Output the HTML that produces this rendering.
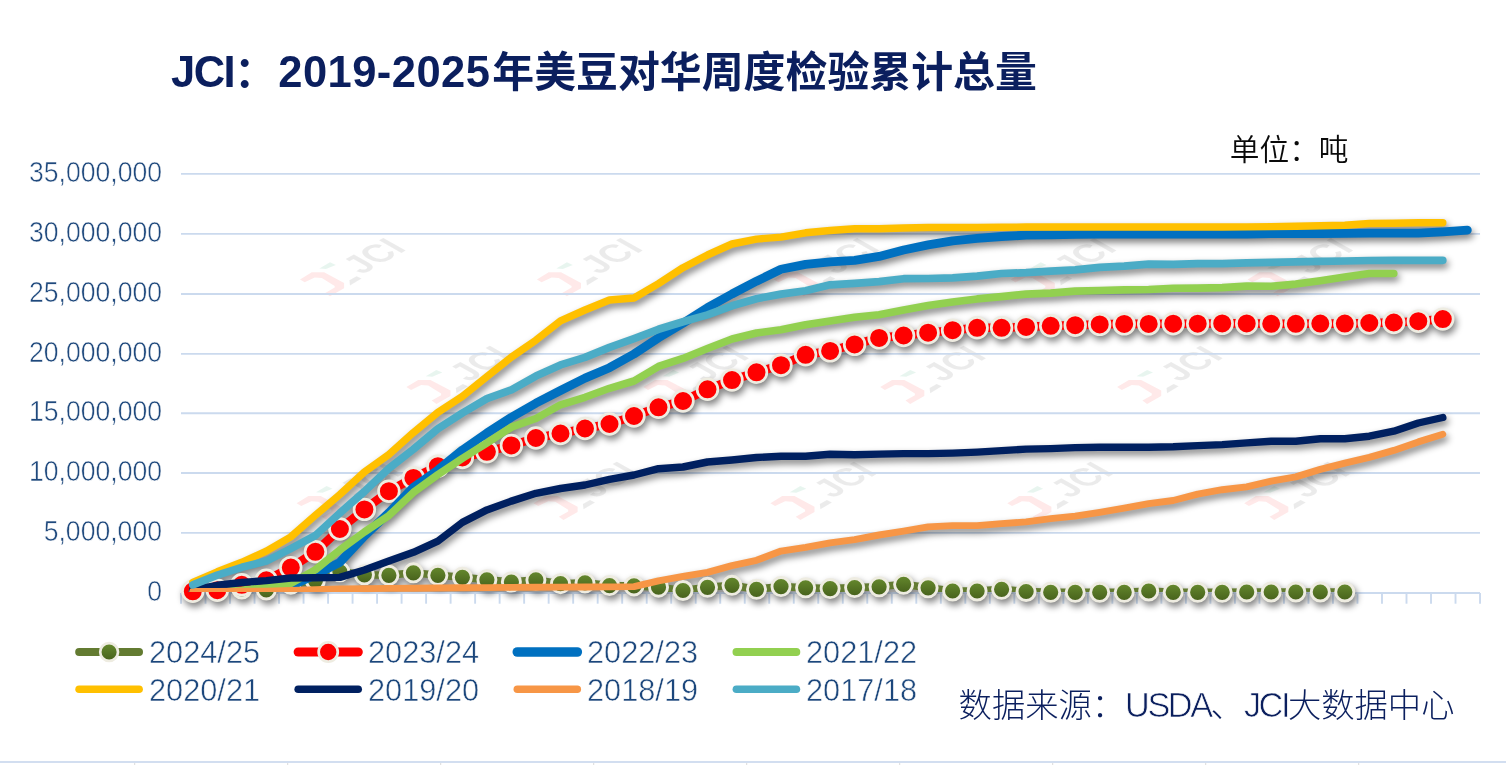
<!DOCTYPE html>
<html lang="zh-CN">
<head>
<meta charset="utf-8">
<title>JCI：2019-2025年美豆对华周度检验累计总量</title>
<style>
html,body{margin:0;padding:0;background:#fff;}
body{width:1506px;height:765px;position:relative;overflow:hidden;font-family:"Liberation Sans","Noto Sans CJK SC",sans-serif;}
.chart{position:absolute;left:0;top:0;}
.t{position:absolute;white-space:nowrap;line-height:1;}
.title{left:171px;top:51px;font-size:41.9px;font-weight:700;color:#0B1F5E;}
.title .l{font-size:43.5px;}
.title .j{letter-spacing:-1.5px;}
.title .d{letter-spacing:0.45px;margin-left:2.2px;margin-right:1.9px;}
.unit{left:1229.8px;top:134.6px;font-size:29.7px;color:#0a0a0a;font-weight:350;}
.src{left:958.6px;top:688px;font-size:33.3px;color:#0B1F5E;font-weight:300;}
.src .l{font-size:34.3px;letter-spacing:-2.45px;-webkit-text-stroke:0.7px #fff;}
.ax{right:1343.8px;width:170px;text-align:right;font-size:28.6px;color:#1F497D;-webkit-text-stroke:0.55px #fff;transform:scaleX(0.93);transform-origin:100% 50%;}
.lg{font-size:32px;color:#1C477C;-webkit-text-stroke:0.55px #fff;transform:scaleX(0.96);transform-origin:0 50%;}
</style>
</head>
<body>

<svg class="chart" width="1506" height="765" viewBox="0 0 1506 765">
<defs>
<filter id="sh" x="-2%" y="-5%" width="104%" height="110%" color-interpolation-filters="sRGB">
<feGaussianBlur in="SourceAlpha" stdDeviation="3.5"/>
<feOffset dx="1.6" dy="4.2"/>
<feComponentTransfer><feFuncA type="linear" slope="0.5"/></feComponentTransfer>
</filter>
<linearGradient id="gg" x1="0" y1="0" x2="0" y2="1"><stop offset="0" stop-color="#668A2E"/><stop offset="1" stop-color="#46601B"/></linearGradient>
</defs>
<path d="M0,762 H1506" stroke="#D2DEF0" stroke-width="1.8" fill="none"/>
<g stroke="#DADADA" stroke-width="1" fill="none">
<path d="M134.7,763 V765"/>
<path d="M287.7,763 V765"/>
<path d="M440.7,763 V765"/>
<path d="M593.7,763 V765"/>
<path d="M746.7,763 V765"/>
<path d="M899.7,763 V765"/>
<path d="M1052.7,763 V765"/>
<path d="M1205.7,763 V765"/>
<path d="M1358.7,763 V765"/>
</g>
<g opacity="0.095" transform="translate(300.0,279.4)">
<polygon points="0,0 11.8,-7.1 24.1,-7.1 44.1,3.5 44.1,8.8 30,16.8 25.3,13.5 34.7,8.2 34.7,6.5 21.8,-1.5 14.7,-2 4.7,2.9" fill="#ff1e1e"/>
<polygon points="19.4,-10.9 30,-17.1 35.9,-14.5 25.9,-10.4" fill="#14a064"/>
<polygon points="49.4,0.8 56.5,-3.2 61.5,-0.8 50,6.1" fill="#3c3c3c"/>
<text transform="translate(62.1,-4.5) matrix(0.707 -0.396 0.707 0.396 0 0) scale(0.9,1)" font-family="'Liberation Sans', sans-serif" font-weight="700" font-size="46" fill="#3c3c3c">JCI</text>
</g>
<g opacity="0.095" transform="translate(536.9,279.4)">
<polygon points="0,0 11.8,-7.1 24.1,-7.1 44.1,3.5 44.1,8.8 30,16.8 25.3,13.5 34.7,8.2 34.7,6.5 21.8,-1.5 14.7,-2 4.7,2.9" fill="#ff1e1e"/>
<polygon points="19.4,-10.9 30,-17.1 35.9,-14.5 25.9,-10.4" fill="#14a064"/>
<polygon points="49.4,0.8 56.5,-3.2 61.5,-0.8 50,6.1" fill="#3c3c3c"/>
<text transform="translate(62.1,-4.5) matrix(0.707 -0.396 0.707 0.396 0 0) scale(0.9,1)" font-family="'Liberation Sans', sans-serif" font-weight="700" font-size="46" fill="#3c3c3c">JCI</text>
</g>
<g opacity="0.095" transform="translate(773.8,279.4)">
<polygon points="0,0 11.8,-7.1 24.1,-7.1 44.1,3.5 44.1,8.8 30,16.8 25.3,13.5 34.7,8.2 34.7,6.5 21.8,-1.5 14.7,-2 4.7,2.9" fill="#ff1e1e"/>
<polygon points="19.4,-10.9 30,-17.1 35.9,-14.5 25.9,-10.4" fill="#14a064"/>
<polygon points="49.4,0.8 56.5,-3.2 61.5,-0.8 50,6.1" fill="#3c3c3c"/>
<text transform="translate(62.1,-4.5) matrix(0.707 -0.396 0.707 0.396 0 0) scale(0.9,1)" font-family="'Liberation Sans', sans-serif" font-weight="700" font-size="46" fill="#3c3c3c">JCI</text>
</g>
<g opacity="0.095" transform="translate(1010.7,279.4)">
<polygon points="0,0 11.8,-7.1 24.1,-7.1 44.1,3.5 44.1,8.8 30,16.8 25.3,13.5 34.7,8.2 34.7,6.5 21.8,-1.5 14.7,-2 4.7,2.9" fill="#ff1e1e"/>
<polygon points="19.4,-10.9 30,-17.1 35.9,-14.5 25.9,-10.4" fill="#14a064"/>
<polygon points="49.4,0.8 56.5,-3.2 61.5,-0.8 50,6.1" fill="#3c3c3c"/>
<text transform="translate(62.1,-4.5) matrix(0.707 -0.396 0.707 0.396 0 0) scale(0.9,1)" font-family="'Liberation Sans', sans-serif" font-weight="700" font-size="46" fill="#3c3c3c">JCI</text>
</g>
<g opacity="0.095" transform="translate(1247.6,279.4)">
<polygon points="0,0 11.8,-7.1 24.1,-7.1 44.1,3.5 44.1,8.8 30,16.8 25.3,13.5 34.7,8.2 34.7,6.5 21.8,-1.5 14.7,-2 4.7,2.9" fill="#ff1e1e"/>
<polygon points="19.4,-10.9 30,-17.1 35.9,-14.5 25.9,-10.4" fill="#14a064"/>
<polygon points="49.4,0.8 56.5,-3.2 61.5,-0.8 50,6.1" fill="#3c3c3c"/>
<text transform="translate(62.1,-4.5) matrix(0.707 -0.396 0.707 0.396 0 0) scale(0.9,1)" font-family="'Liberation Sans', sans-serif" font-weight="700" font-size="46" fill="#3c3c3c">JCI</text>
</g>
<g opacity="0.095" transform="translate(406.4,387.1)">
<polygon points="0,0 11.8,-7.1 24.1,-7.1 44.1,3.5 44.1,8.8 30,16.8 25.3,13.5 34.7,8.2 34.7,6.5 21.8,-1.5 14.7,-2 4.7,2.9" fill="#ff1e1e"/>
<polygon points="19.4,-10.9 30,-17.1 35.9,-14.5 25.9,-10.4" fill="#14a064"/>
<polygon points="49.4,0.8 56.5,-3.2 61.5,-0.8 50,6.1" fill="#3c3c3c"/>
<text transform="translate(62.1,-4.5) matrix(0.707 -0.396 0.707 0.396 0 0) scale(0.9,1)" font-family="'Liberation Sans', sans-serif" font-weight="700" font-size="46" fill="#3c3c3c">JCI</text>
</g>
<g opacity="0.095" transform="translate(643.3,387.1)">
<polygon points="0,0 11.8,-7.1 24.1,-7.1 44.1,3.5 44.1,8.8 30,16.8 25.3,13.5 34.7,8.2 34.7,6.5 21.8,-1.5 14.7,-2 4.7,2.9" fill="#ff1e1e"/>
<polygon points="19.4,-10.9 30,-17.1 35.9,-14.5 25.9,-10.4" fill="#14a064"/>
<polygon points="49.4,0.8 56.5,-3.2 61.5,-0.8 50,6.1" fill="#3c3c3c"/>
<text transform="translate(62.1,-4.5) matrix(0.707 -0.396 0.707 0.396 0 0) scale(0.9,1)" font-family="'Liberation Sans', sans-serif" font-weight="700" font-size="46" fill="#3c3c3c">JCI</text>
</g>
<g opacity="0.095" transform="translate(880.2,387.1)">
<polygon points="0,0 11.8,-7.1 24.1,-7.1 44.1,3.5 44.1,8.8 30,16.8 25.3,13.5 34.7,8.2 34.7,6.5 21.8,-1.5 14.7,-2 4.7,2.9" fill="#ff1e1e"/>
<polygon points="19.4,-10.9 30,-17.1 35.9,-14.5 25.9,-10.4" fill="#14a064"/>
<polygon points="49.4,0.8 56.5,-3.2 61.5,-0.8 50,6.1" fill="#3c3c3c"/>
<text transform="translate(62.1,-4.5) matrix(0.707 -0.396 0.707 0.396 0 0) scale(0.9,1)" font-family="'Liberation Sans', sans-serif" font-weight="700" font-size="46" fill="#3c3c3c">JCI</text>
</g>
<g opacity="0.095" transform="translate(1117.1,387.1)">
<polygon points="0,0 11.8,-7.1 24.1,-7.1 44.1,3.5 44.1,8.8 30,16.8 25.3,13.5 34.7,8.2 34.7,6.5 21.8,-1.5 14.7,-2 4.7,2.9" fill="#ff1e1e"/>
<polygon points="19.4,-10.9 30,-17.1 35.9,-14.5 25.9,-10.4" fill="#14a064"/>
<polygon points="49.4,0.8 56.5,-3.2 61.5,-0.8 50,6.1" fill="#3c3c3c"/>
<text transform="translate(62.1,-4.5) matrix(0.707 -0.396 0.707 0.396 0 0) scale(0.9,1)" font-family="'Liberation Sans', sans-serif" font-weight="700" font-size="46" fill="#3c3c3c">JCI</text>
</g>
<g opacity="0.095" transform="translate(296.6,503.2)">
<polygon points="0,0 11.8,-7.1 24.1,-7.1 44.1,3.5 44.1,8.8 30,16.8 25.3,13.5 34.7,8.2 34.7,6.5 21.8,-1.5 14.7,-2 4.7,2.9" fill="#ff1e1e"/>
<polygon points="19.4,-10.9 30,-17.1 35.9,-14.5 25.9,-10.4" fill="#14a064"/>
<polygon points="49.4,0.8 56.5,-3.2 61.5,-0.8 50,6.1" fill="#3c3c3c"/>
<text transform="translate(62.1,-4.5) matrix(0.707 -0.396 0.707 0.396 0 0) scale(0.9,1)" font-family="'Liberation Sans', sans-serif" font-weight="700" font-size="46" fill="#3c3c3c">JCI</text>
</g>
<g opacity="0.095" transform="translate(533.5,503.2)">
<polygon points="0,0 11.8,-7.1 24.1,-7.1 44.1,3.5 44.1,8.8 30,16.8 25.3,13.5 34.7,8.2 34.7,6.5 21.8,-1.5 14.7,-2 4.7,2.9" fill="#ff1e1e"/>
<polygon points="19.4,-10.9 30,-17.1 35.9,-14.5 25.9,-10.4" fill="#14a064"/>
<polygon points="49.4,0.8 56.5,-3.2 61.5,-0.8 50,6.1" fill="#3c3c3c"/>
<text transform="translate(62.1,-4.5) matrix(0.707 -0.396 0.707 0.396 0 0) scale(0.9,1)" font-family="'Liberation Sans', sans-serif" font-weight="700" font-size="46" fill="#3c3c3c">JCI</text>
</g>
<g opacity="0.095" transform="translate(770.4,503.2)">
<polygon points="0,0 11.8,-7.1 24.1,-7.1 44.1,3.5 44.1,8.8 30,16.8 25.3,13.5 34.7,8.2 34.7,6.5 21.8,-1.5 14.7,-2 4.7,2.9" fill="#ff1e1e"/>
<polygon points="19.4,-10.9 30,-17.1 35.9,-14.5 25.9,-10.4" fill="#14a064"/>
<polygon points="49.4,0.8 56.5,-3.2 61.5,-0.8 50,6.1" fill="#3c3c3c"/>
<text transform="translate(62.1,-4.5) matrix(0.707 -0.396 0.707 0.396 0 0) scale(0.9,1)" font-family="'Liberation Sans', sans-serif" font-weight="700" font-size="46" fill="#3c3c3c">JCI</text>
</g>
<g opacity="0.095" transform="translate(1007.3,503.2)">
<polygon points="0,0 11.8,-7.1 24.1,-7.1 44.1,3.5 44.1,8.8 30,16.8 25.3,13.5 34.7,8.2 34.7,6.5 21.8,-1.5 14.7,-2 4.7,2.9" fill="#ff1e1e"/>
<polygon points="19.4,-10.9 30,-17.1 35.9,-14.5 25.9,-10.4" fill="#14a064"/>
<polygon points="49.4,0.8 56.5,-3.2 61.5,-0.8 50,6.1" fill="#3c3c3c"/>
<text transform="translate(62.1,-4.5) matrix(0.707 -0.396 0.707 0.396 0 0) scale(0.9,1)" font-family="'Liberation Sans', sans-serif" font-weight="700" font-size="46" fill="#3c3c3c">JCI</text>
</g>
<g opacity="0.095" transform="translate(1244.2,503.2)">
<polygon points="0,0 11.8,-7.1 24.1,-7.1 44.1,3.5 44.1,8.8 30,16.8 25.3,13.5 34.7,8.2 34.7,6.5 21.8,-1.5 14.7,-2 4.7,2.9" fill="#ff1e1e"/>
<polygon points="19.4,-10.9 30,-17.1 35.9,-14.5 25.9,-10.4" fill="#14a064"/>
<polygon points="49.4,0.8 56.5,-3.2 61.5,-0.8 50,6.1" fill="#3c3c3c"/>
<text transform="translate(62.1,-4.5) matrix(0.707 -0.396 0.707 0.396 0 0) scale(0.9,1)" font-family="'Liberation Sans', sans-serif" font-weight="700" font-size="46" fill="#3c3c3c">JCI</text>
</g>
<g stroke="#CBDAEE" stroke-width="1.9" fill="none">
<path d="M181.0,173.90 H1480.0"/>
<path d="M181.0,233.85 H1480.0"/>
<path d="M181.0,294.00 H1480.0"/>
<path d="M181.0,353.90 H1480.0"/>
<path d="M181.0,413.30 H1480.0"/>
<path d="M181.0,473.00 H1480.0"/>
<path d="M181.0,532.90 H1480.0"/>
<path d="M181.0,593.00 H1480.0"/>
<path d="M181.00,593.00 V603.70"/>
<path d="M205.51,593.00 V603.70"/>
<path d="M230.02,593.00 V603.70"/>
<path d="M254.53,593.00 V603.70"/>
<path d="M279.04,593.00 V603.70"/>
<path d="M303.55,593.00 V603.70"/>
<path d="M328.06,593.00 V603.70"/>
<path d="M352.57,593.00 V603.70"/>
<path d="M377.08,593.00 V603.70"/>
<path d="M401.59,593.00 V603.70"/>
<path d="M426.10,593.00 V603.70"/>
<path d="M450.61,593.00 V603.70"/>
<path d="M475.12,593.00 V603.70"/>
<path d="M499.63,593.00 V603.70"/>
<path d="M524.14,593.00 V603.70"/>
<path d="M548.65,593.00 V603.70"/>
<path d="M573.16,593.00 V603.70"/>
<path d="M597.67,593.00 V603.70"/>
<path d="M622.18,593.00 V603.70"/>
<path d="M646.69,593.00 V603.70"/>
<path d="M671.20,593.00 V603.70"/>
<path d="M695.71,593.00 V603.70"/>
<path d="M720.22,593.00 V603.70"/>
<path d="M744.73,593.00 V603.70"/>
<path d="M769.24,593.00 V603.70"/>
<path d="M793.75,593.00 V603.70"/>
<path d="M818.26,593.00 V603.70"/>
<path d="M842.77,593.00 V603.70"/>
<path d="M867.28,593.00 V603.70"/>
<path d="M891.79,593.00 V603.70"/>
<path d="M916.30,593.00 V603.70"/>
<path d="M940.81,593.00 V603.70"/>
<path d="M965.32,593.00 V603.70"/>
<path d="M989.83,593.00 V603.70"/>
<path d="M1014.34,593.00 V603.70"/>
<path d="M1038.85,593.00 V603.70"/>
<path d="M1063.36,593.00 V603.70"/>
<path d="M1087.87,593.00 V603.70"/>
<path d="M1112.38,593.00 V603.70"/>
<path d="M1136.89,593.00 V603.70"/>
<path d="M1161.40,593.00 V603.70"/>
<path d="M1185.91,593.00 V603.70"/>
<path d="M1210.42,593.00 V603.70"/>
<path d="M1234.93,593.00 V603.70"/>
<path d="M1259.44,593.00 V603.70"/>
<path d="M1283.95,593.00 V603.70"/>
<path d="M1308.46,593.00 V603.70"/>
<path d="M1332.97,593.00 V603.70"/>
<path d="M1357.48,593.00 V603.70"/>
<path d="M1381.99,593.00 V603.70"/>
<path d="M1406.50,593.00 V603.70"/>
<path d="M1431.01,593.00 V603.70"/>
<path d="M1455.52,593.00 V603.70"/>
<path d="M1480.03,593.00 V603.70"/>
</g>
<defs><clipPath id="pc"><rect x="0" y="0" width="1506" height="592"/></clipPath><clipPath id="pb"><rect x="0" y="592" width="1506" height="60"/></clipPath></defs>
<g clip-path="url(#pc)"><g filter="url(#sh)"><polyline clip-path="url(#pc)" points="192.8,591.3 217.3,590.2 241.8,589.0 266.3,590.0 290.8,584.3 315.4,580.6 339.9,571.8 364.4,574.8 388.9,575.3 413.4,572.8 437.9,575.3 462.4,577.3 486.9,579.8 511.4,582.0 535.9,579.9 560.5,583.7 585.0,582.9 609.5,585.6 634.0,585.9 658.5,587.2 683.0,590.5 707.5,587.3 732.0,585.3 756.5,589.3 781.0,586.6 805.6,587.8 830.1,588.6 854.6,587.6 879.1,586.8 903.6,584.3 928.1,587.8 952.6,591.0 977.1,591.0 1001.6,589.3 1026.1,591.5 1050.7,592.3 1075.2,592.3 1099.7,592.3 1124.2,592.3 1148.7,591.0 1173.2,592.3 1197.7,592.3 1222.2,592.3 1246.7,592.0 1271.2,592.0 1295.8,592.0 1320.3,592.0 1344.8,592.0" fill="none" stroke="#637B31" stroke-width="7.6" stroke-linecap="round" stroke-linejoin="round"/>
<g fill="url(#gg)" stroke="#EEECE1" stroke-width="2.9">
<circle cx="192.8" cy="591.3" r="9.049999999999999"/>
<circle cx="217.3" cy="590.2" r="9.049999999999999"/>
<circle cx="241.8" cy="589.0" r="9.049999999999999"/>
<circle cx="266.3" cy="590.0" r="9.049999999999999"/>
<circle cx="290.8" cy="584.3" r="9.049999999999999"/>
<circle cx="315.4" cy="580.6" r="9.049999999999999"/>
<circle cx="339.9" cy="571.8" r="9.049999999999999"/>
<circle cx="364.4" cy="574.8" r="9.049999999999999"/>
<circle cx="388.9" cy="575.3" r="9.049999999999999"/>
<circle cx="413.4" cy="572.8" r="9.049999999999999"/>
<circle cx="437.9" cy="575.3" r="9.049999999999999"/>
<circle cx="462.4" cy="577.3" r="9.049999999999999"/>
<circle cx="486.9" cy="579.8" r="9.049999999999999"/>
<circle cx="511.4" cy="582.0" r="9.049999999999999"/>
<circle cx="535.9" cy="579.9" r="9.049999999999999"/>
<circle cx="560.5" cy="583.7" r="9.049999999999999"/>
<circle cx="585.0" cy="582.9" r="9.049999999999999"/>
<circle cx="609.5" cy="585.6" r="9.049999999999999"/>
<circle cx="634.0" cy="585.9" r="9.049999999999999"/>
<circle cx="658.5" cy="587.2" r="9.049999999999999"/>
<circle cx="683.0" cy="590.5" r="9.049999999999999"/>
<circle cx="707.5" cy="587.3" r="9.049999999999999"/>
<circle cx="732.0" cy="585.3" r="9.049999999999999"/>
<circle cx="756.5" cy="589.3" r="9.049999999999999"/>
<circle cx="781.0" cy="586.6" r="9.049999999999999"/>
<circle cx="805.6" cy="587.8" r="9.049999999999999"/>
<circle cx="830.1" cy="588.6" r="9.049999999999999"/>
<circle cx="854.6" cy="587.6" r="9.049999999999999"/>
<circle cx="879.1" cy="586.8" r="9.049999999999999"/>
<circle cx="903.6" cy="584.3" r="9.049999999999999"/>
<circle cx="928.1" cy="587.8" r="9.049999999999999"/>
<circle cx="952.6" cy="591.0" r="9.049999999999999"/>
<circle cx="977.1" cy="591.0" r="9.049999999999999"/>
<circle cx="1001.6" cy="589.3" r="9.049999999999999"/>
<circle cx="1026.1" cy="591.5" r="9.049999999999999"/>
<circle cx="1050.7" cy="592.3" r="9.049999999999999"/>
<circle cx="1075.2" cy="592.3" r="9.049999999999999"/>
<circle cx="1099.7" cy="592.3" r="9.049999999999999"/>
<circle cx="1124.2" cy="592.3" r="9.049999999999999"/>
<circle cx="1148.7" cy="591.0" r="9.049999999999999"/>
<circle cx="1173.2" cy="592.3" r="9.049999999999999"/>
<circle cx="1197.7" cy="592.3" r="9.049999999999999"/>
<circle cx="1222.2" cy="592.3" r="9.049999999999999"/>
<circle cx="1246.7" cy="592.0" r="9.049999999999999"/>
<circle cx="1271.2" cy="592.0" r="9.049999999999999"/>
<circle cx="1295.8" cy="592.0" r="9.049999999999999"/>
<circle cx="1320.3" cy="592.0" r="9.049999999999999"/>
<circle cx="1344.8" cy="592.0" r="9.049999999999999"/>
</g>
<polyline clip-path="url(#pc)" points="192.8,591.3 217.3,590.2 241.8,584.8 266.3,580.3 290.8,567.6 315.4,551.8 339.9,529.0 364.4,509.4 388.9,491.2 413.4,477.9 437.9,466.2 462.4,457.5 486.9,451.8 511.4,445.4 535.9,438.0 560.5,433.5 585.0,428.5 609.5,424.0 634.0,416.0 658.5,407.3 683.0,401.0 707.5,389.3 732.0,380.1 756.5,372.3 781.0,365.2 805.6,354.8 830.1,350.9 854.6,344.4 879.1,337.9 903.6,335.5 928.1,332.7 952.6,330.2 977.1,327.8 1001.6,327.8 1026.1,326.9 1050.7,325.8 1075.2,325.2 1099.7,324.4 1124.2,323.9 1148.7,323.9 1173.2,323.7 1197.7,323.7 1222.2,323.4 1246.7,323.4 1271.2,323.8 1295.8,323.8 1320.3,323.6 1344.8,323.6 1369.3,323.0 1393.8,322.5 1418.3,321.2 1442.8,319.1" fill="none" stroke="#FF0000" stroke-width="8.6" stroke-linecap="round" stroke-linejoin="round"/>
<g fill="#FF0000" stroke="#EEECE1" stroke-width="2.7">
<circle cx="192.8" cy="591.3" r="10.35"/>
<circle cx="217.3" cy="590.2" r="10.35"/>
<circle cx="241.8" cy="584.8" r="10.35"/>
<circle cx="266.3" cy="580.3" r="10.35"/>
<circle cx="290.8" cy="567.6" r="10.35"/>
<circle cx="315.4" cy="551.8" r="10.35"/>
<circle cx="339.9" cy="529.0" r="10.35"/>
<circle cx="364.4" cy="509.4" r="10.35"/>
<circle cx="388.9" cy="491.2" r="10.35"/>
<circle cx="413.4" cy="477.9" r="10.35"/>
<circle cx="437.9" cy="466.2" r="10.35"/>
<circle cx="462.4" cy="457.5" r="10.35"/>
<circle cx="486.9" cy="451.8" r="10.35"/>
<circle cx="511.4" cy="445.4" r="10.35"/>
<circle cx="535.9" cy="438.0" r="10.35"/>
<circle cx="560.5" cy="433.5" r="10.35"/>
<circle cx="585.0" cy="428.5" r="10.35"/>
<circle cx="609.5" cy="424.0" r="10.35"/>
<circle cx="634.0" cy="416.0" r="10.35"/>
<circle cx="658.5" cy="407.3" r="10.35"/>
<circle cx="683.0" cy="401.0" r="10.35"/>
<circle cx="707.5" cy="389.3" r="10.35"/>
<circle cx="732.0" cy="380.1" r="10.35"/>
<circle cx="756.5" cy="372.3" r="10.35"/>
<circle cx="781.0" cy="365.2" r="10.35"/>
<circle cx="805.6" cy="354.8" r="10.35"/>
<circle cx="830.1" cy="350.9" r="10.35"/>
<circle cx="854.6" cy="344.4" r="10.35"/>
<circle cx="879.1" cy="337.9" r="10.35"/>
<circle cx="903.6" cy="335.5" r="10.35"/>
<circle cx="928.1" cy="332.7" r="10.35"/>
<circle cx="952.6" cy="330.2" r="10.35"/>
<circle cx="977.1" cy="327.8" r="10.35"/>
<circle cx="1001.6" cy="327.8" r="10.35"/>
<circle cx="1026.1" cy="326.9" r="10.35"/>
<circle cx="1050.7" cy="325.8" r="10.35"/>
<circle cx="1075.2" cy="325.2" r="10.35"/>
<circle cx="1099.7" cy="324.4" r="10.35"/>
<circle cx="1124.2" cy="323.9" r="10.35"/>
<circle cx="1148.7" cy="323.9" r="10.35"/>
<circle cx="1173.2" cy="323.7" r="10.35"/>
<circle cx="1197.7" cy="323.7" r="10.35"/>
<circle cx="1222.2" cy="323.4" r="10.35"/>
<circle cx="1246.7" cy="323.4" r="10.35"/>
<circle cx="1271.2" cy="323.8" r="10.35"/>
<circle cx="1295.8" cy="323.8" r="10.35"/>
<circle cx="1320.3" cy="323.6" r="10.35"/>
<circle cx="1344.8" cy="323.6" r="10.35"/>
<circle cx="1369.3" cy="323.0" r="10.35"/>
<circle cx="1393.8" cy="322.5" r="10.35"/>
<circle cx="1418.3" cy="321.2" r="10.35"/>
<circle cx="1442.8" cy="319.1" r="10.35"/>
</g>
<polyline clip-path="url(#pc)" points="192.8,592.0 217.3,592.0 241.8,592.0 266.3,591.5 290.8,586.0 315.4,574.8 339.9,562.3 364.4,536.0 388.9,512.8 413.4,487.4 437.9,470.0 462.4,450.0 486.9,433.0 511.4,417.3 535.9,403.2 560.5,390.5 585.0,378.1 609.5,367.7 634.0,354.0 658.5,337.8 683.0,323.3 707.5,307.6 732.0,294.0 756.5,281.2 781.0,269.2 805.6,264.4 830.1,261.9 854.6,260.3 879.1,256.4 903.6,250.0 928.1,244.9 952.6,240.8 977.1,238.3 1001.6,236.5 1026.1,235.2 1050.7,234.9 1075.2,234.4 1099.7,234.2 1124.2,234.2 1148.7,234.2 1173.2,234.2 1197.7,234.2 1222.2,234.2 1246.7,234.2 1271.2,233.7 1295.8,233.6 1320.3,233.5 1344.8,233.4 1369.3,233.1 1393.8,233.1 1418.3,233.1 1442.8,231.8 1467.3,230.1" fill="none" stroke="#0070C0" stroke-width="8.8" stroke-linecap="round" stroke-linejoin="round"/>
<polyline clip-path="url(#pc)" points="192.8,591.5 217.3,591.5 241.8,590.3 266.3,587.5 290.8,583.5 315.4,569.8 339.9,549.9 364.4,532.0 388.9,515.6 413.4,492.4 437.9,474.7 462.4,458.4 486.9,443.0 511.4,427.2 535.9,418.5 560.5,404.8 585.0,397.3 609.5,388.3 634.0,381.0 658.5,366.4 683.0,358.4 707.5,348.4 732.0,339.0 756.5,333.0 781.0,329.8 805.6,324.8 830.1,321.1 854.6,317.3 879.1,314.8 903.6,309.9 928.1,305.6 952.6,302.1 977.1,298.9 1001.6,296.6 1026.1,294.1 1050.7,293.1 1075.2,291.1 1099.7,290.5 1124.2,289.9 1148.7,289.5 1173.2,288.3 1197.7,288.1 1222.2,287.6 1246.7,286.1 1271.2,286.2 1295.8,284.1 1320.3,280.7 1344.8,276.9 1369.3,273.5 1393.8,273.5" fill="none" stroke="#92D050" stroke-width="7.6" stroke-linecap="round" stroke-linejoin="round"/>
<polyline clip-path="url(#pc)" points="192.8,582.3 217.3,571.8 241.8,562.3 266.3,551.1 290.8,536.9 315.4,515.3 339.9,494.5 364.4,472.0 388.9,454.5 413.4,432.6 437.9,412.3 462.4,396.3 486.9,376.7 511.4,357.1 535.9,340.2 560.5,320.9 585.0,310.0 609.5,300.0 634.0,298.0 658.5,283.6 683.0,267.7 707.5,255.0 732.0,244.0 756.5,239.1 781.0,237.1 805.6,232.8 830.1,230.5 854.6,228.7 879.1,228.7 903.6,228.0 928.1,227.5 952.6,227.5 977.1,227.5 1001.6,227.3 1026.1,227.0 1050.7,227.0 1075.2,227.0 1099.7,227.0 1124.2,227.0 1148.7,227.0 1173.2,227.0 1197.7,227.0 1222.2,227.0 1246.7,226.9 1271.2,226.6 1295.8,226.3 1320.3,225.8 1344.8,225.3 1369.3,223.5 1393.8,223.2 1418.3,222.7 1442.8,222.7" fill="none" stroke="#FFC000" stroke-width="7.4" stroke-linecap="round" stroke-linejoin="round"/>
<polyline clip-path="url(#pc)" points="192.8,590.0 217.3,585.3 241.8,582.5 266.3,580.6 290.8,578.0 315.4,577.8 339.9,577.4 364.4,570.0 388.9,561.1 413.4,552.3 437.9,541.1 462.4,522.4 486.9,509.9 511.4,501.1 535.9,493.3 560.5,488.5 585.0,485.0 609.5,479.4 634.0,475.0 658.5,468.7 683.0,467.0 707.5,462.0 732.0,460.0 756.5,457.5 781.0,456.2 805.6,456.2 830.1,454.2 854.6,454.8 879.1,454.1 903.6,453.6 928.1,453.6 952.6,453.1 977.1,452.1 1001.6,450.6 1026.1,449.1 1050.7,448.6 1075.2,447.6 1099.7,447.3 1124.2,447.3 1148.7,447.3 1173.2,446.8 1197.7,445.6 1222.2,444.6 1246.7,442.9 1271.2,441.2 1295.8,441.2 1320.3,438.7 1344.8,438.7 1369.3,436.2 1393.8,431.2 1418.3,423.0 1442.8,417.5" fill="none" stroke="#002060" stroke-width="7.4" stroke-linecap="round" stroke-linejoin="round"/>
<polyline clip-path="url(#pc)" points="192.8,591.4 217.3,591.4 241.8,591.3 266.3,591.2 290.8,590.5 315.4,589.7 339.9,589.0 364.4,588.6 388.9,588.4 413.4,588.2 437.9,588.0 462.4,587.8 486.9,587.6 511.4,587.4 535.9,587.2 560.5,587.1 585.0,587.0 609.5,586.9 634.0,586.6 658.5,580.8 683.0,576.4 707.5,572.3 732.0,565.6 756.5,560.3 781.0,551.1 805.6,547.4 830.1,542.9 854.6,539.6 879.1,535.0 903.6,531.1 928.1,526.9 952.6,525.6 977.1,525.6 1001.6,523.6 1026.1,521.9 1050.7,518.6 1075.2,516.1 1099.7,512.4 1124.2,508.2 1148.7,503.7 1173.2,500.5 1197.7,494.1 1222.2,489.7 1246.7,486.9 1271.2,481.1 1295.8,476.9 1320.3,469.4 1344.8,463.2 1369.3,457.4 1393.8,450.4 1418.3,441.9 1442.8,434.2" fill="none" stroke="#F79646" stroke-width="6.9" stroke-linecap="round" stroke-linejoin="round"/>
<polyline clip-path="url(#pc)" points="192.8,584.8 217.3,575.2 241.8,567.3 266.3,561.1 290.8,548.6 315.4,535.5 339.9,513.0 364.4,491.5 388.9,468.4 413.4,449.3 437.9,428.7 462.4,413.0 486.9,398.6 511.4,389.8 535.9,376.1 560.5,364.9 585.0,357.4 609.5,347.4 634.0,338.6 658.5,329.3 683.0,321.7 707.5,314.9 732.0,305.8 756.5,298.7 781.0,294.1 805.6,290.7 830.1,284.8 854.6,283.4 879.1,281.6 903.6,278.7 928.1,278.5 952.6,277.8 977.1,276.2 1001.6,273.5 1026.1,272.7 1050.7,271.1 1075.2,269.8 1099.7,267.3 1124.2,266.1 1148.7,264.1 1173.2,264.4 1197.7,263.7 1222.2,263.6 1246.7,262.9 1271.2,262.3 1295.8,261.8 1320.3,261.4 1344.8,261.0 1369.3,260.5 1393.8,260.3 1418.3,260.3 1442.8,260.3" fill="none" stroke="#4BACC6" stroke-width="7.7" stroke-linecap="round" stroke-linejoin="round"/></g></g>
<g clip-path="url(#pb)"><g filter="url(#sh)"><g fill="url(#gg)" stroke="#EEECE1" stroke-width="2.9">
<circle cx="192.8" cy="591.3" r="9.049999999999999"/>
<circle cx="217.3" cy="590.2" r="9.049999999999999"/>
<circle cx="241.8" cy="589.0" r="9.049999999999999"/>
<circle cx="266.3" cy="590.0" r="9.049999999999999"/>
<circle cx="290.8" cy="584.3" r="9.049999999999999"/>
<circle cx="315.4" cy="580.6" r="9.049999999999999"/>
<circle cx="339.9" cy="571.8" r="9.049999999999999"/>
<circle cx="364.4" cy="574.8" r="9.049999999999999"/>
<circle cx="388.9" cy="575.3" r="9.049999999999999"/>
<circle cx="413.4" cy="572.8" r="9.049999999999999"/>
<circle cx="437.9" cy="575.3" r="9.049999999999999"/>
<circle cx="462.4" cy="577.3" r="9.049999999999999"/>
<circle cx="486.9" cy="579.8" r="9.049999999999999"/>
<circle cx="511.4" cy="582.0" r="9.049999999999999"/>
<circle cx="535.9" cy="579.9" r="9.049999999999999"/>
<circle cx="560.5" cy="583.7" r="9.049999999999999"/>
<circle cx="585.0" cy="582.9" r="9.049999999999999"/>
<circle cx="609.5" cy="585.6" r="9.049999999999999"/>
<circle cx="634.0" cy="585.9" r="9.049999999999999"/>
<circle cx="658.5" cy="587.2" r="9.049999999999999"/>
<circle cx="683.0" cy="590.5" r="9.049999999999999"/>
<circle cx="707.5" cy="587.3" r="9.049999999999999"/>
<circle cx="732.0" cy="585.3" r="9.049999999999999"/>
<circle cx="756.5" cy="589.3" r="9.049999999999999"/>
<circle cx="781.0" cy="586.6" r="9.049999999999999"/>
<circle cx="805.6" cy="587.8" r="9.049999999999999"/>
<circle cx="830.1" cy="588.6" r="9.049999999999999"/>
<circle cx="854.6" cy="587.6" r="9.049999999999999"/>
<circle cx="879.1" cy="586.8" r="9.049999999999999"/>
<circle cx="903.6" cy="584.3" r="9.049999999999999"/>
<circle cx="928.1" cy="587.8" r="9.049999999999999"/>
<circle cx="952.6" cy="591.0" r="9.049999999999999"/>
<circle cx="977.1" cy="591.0" r="9.049999999999999"/>
<circle cx="1001.6" cy="589.3" r="9.049999999999999"/>
<circle cx="1026.1" cy="591.5" r="9.049999999999999"/>
<circle cx="1050.7" cy="592.3" r="9.049999999999999"/>
<circle cx="1075.2" cy="592.3" r="9.049999999999999"/>
<circle cx="1099.7" cy="592.3" r="9.049999999999999"/>
<circle cx="1124.2" cy="592.3" r="9.049999999999999"/>
<circle cx="1148.7" cy="591.0" r="9.049999999999999"/>
<circle cx="1173.2" cy="592.3" r="9.049999999999999"/>
<circle cx="1197.7" cy="592.3" r="9.049999999999999"/>
<circle cx="1222.2" cy="592.3" r="9.049999999999999"/>
<circle cx="1246.7" cy="592.0" r="9.049999999999999"/>
<circle cx="1271.2" cy="592.0" r="9.049999999999999"/>
<circle cx="1295.8" cy="592.0" r="9.049999999999999"/>
<circle cx="1320.3" cy="592.0" r="9.049999999999999"/>
<circle cx="1344.8" cy="592.0" r="9.049999999999999"/>
</g>
<g fill="#FF0000" stroke="#EEECE1" stroke-width="2.7">
<circle cx="192.8" cy="591.3" r="10.35"/>
<circle cx="217.3" cy="590.2" r="10.35"/>
<circle cx="241.8" cy="584.8" r="10.35"/>
<circle cx="266.3" cy="580.3" r="10.35"/>
<circle cx="290.8" cy="567.6" r="10.35"/>
<circle cx="315.4" cy="551.8" r="10.35"/>
<circle cx="339.9" cy="529.0" r="10.35"/>
<circle cx="364.4" cy="509.4" r="10.35"/>
<circle cx="388.9" cy="491.2" r="10.35"/>
<circle cx="413.4" cy="477.9" r="10.35"/>
<circle cx="437.9" cy="466.2" r="10.35"/>
<circle cx="462.4" cy="457.5" r="10.35"/>
<circle cx="486.9" cy="451.8" r="10.35"/>
<circle cx="511.4" cy="445.4" r="10.35"/>
<circle cx="535.9" cy="438.0" r="10.35"/>
<circle cx="560.5" cy="433.5" r="10.35"/>
<circle cx="585.0" cy="428.5" r="10.35"/>
<circle cx="609.5" cy="424.0" r="10.35"/>
<circle cx="634.0" cy="416.0" r="10.35"/>
<circle cx="658.5" cy="407.3" r="10.35"/>
<circle cx="683.0" cy="401.0" r="10.35"/>
<circle cx="707.5" cy="389.3" r="10.35"/>
<circle cx="732.0" cy="380.1" r="10.35"/>
<circle cx="756.5" cy="372.3" r="10.35"/>
<circle cx="781.0" cy="365.2" r="10.35"/>
<circle cx="805.6" cy="354.8" r="10.35"/>
<circle cx="830.1" cy="350.9" r="10.35"/>
<circle cx="854.6" cy="344.4" r="10.35"/>
<circle cx="879.1" cy="337.9" r="10.35"/>
<circle cx="903.6" cy="335.5" r="10.35"/>
<circle cx="928.1" cy="332.7" r="10.35"/>
<circle cx="952.6" cy="330.2" r="10.35"/>
<circle cx="977.1" cy="327.8" r="10.35"/>
<circle cx="1001.6" cy="327.8" r="10.35"/>
<circle cx="1026.1" cy="326.9" r="10.35"/>
<circle cx="1050.7" cy="325.8" r="10.35"/>
<circle cx="1075.2" cy="325.2" r="10.35"/>
<circle cx="1099.7" cy="324.4" r="10.35"/>
<circle cx="1124.2" cy="323.9" r="10.35"/>
<circle cx="1148.7" cy="323.9" r="10.35"/>
<circle cx="1173.2" cy="323.7" r="10.35"/>
<circle cx="1197.7" cy="323.7" r="10.35"/>
<circle cx="1222.2" cy="323.4" r="10.35"/>
<circle cx="1246.7" cy="323.4" r="10.35"/>
<circle cx="1271.2" cy="323.8" r="10.35"/>
<circle cx="1295.8" cy="323.8" r="10.35"/>
<circle cx="1320.3" cy="323.6" r="10.35"/>
<circle cx="1344.8" cy="323.6" r="10.35"/>
<circle cx="1369.3" cy="323.0" r="10.35"/>
<circle cx="1393.8" cy="322.5" r="10.35"/>
<circle cx="1418.3" cy="321.2" r="10.35"/>
<circle cx="1442.8" cy="319.1" r="10.35"/>
</g></g></g>
<g><polyline clip-path="url(#pc)" points="192.8,591.3 217.3,590.2 241.8,589.0 266.3,590.0 290.8,584.3 315.4,580.6 339.9,571.8 364.4,574.8 388.9,575.3 413.4,572.8 437.9,575.3 462.4,577.3 486.9,579.8 511.4,582.0 535.9,579.9 560.5,583.7 585.0,582.9 609.5,585.6 634.0,585.9 658.5,587.2 683.0,590.5 707.5,587.3 732.0,585.3 756.5,589.3 781.0,586.6 805.6,587.8 830.1,588.6 854.6,587.6 879.1,586.8 903.6,584.3 928.1,587.8 952.6,591.0 977.1,591.0 1001.6,589.3 1026.1,591.5 1050.7,592.3 1075.2,592.3 1099.7,592.3 1124.2,592.3 1148.7,591.0 1173.2,592.3 1197.7,592.3 1222.2,592.3 1246.7,592.0 1271.2,592.0 1295.8,592.0 1320.3,592.0 1344.8,592.0" fill="none" stroke="#637B31" stroke-width="7.6" stroke-linecap="round" stroke-linejoin="round"/>
<g fill="url(#gg)" stroke="#EEECE1" stroke-width="2.9">
<circle cx="192.8" cy="591.3" r="9.049999999999999"/>
<circle cx="217.3" cy="590.2" r="9.049999999999999"/>
<circle cx="241.8" cy="589.0" r="9.049999999999999"/>
<circle cx="266.3" cy="590.0" r="9.049999999999999"/>
<circle cx="290.8" cy="584.3" r="9.049999999999999"/>
<circle cx="315.4" cy="580.6" r="9.049999999999999"/>
<circle cx="339.9" cy="571.8" r="9.049999999999999"/>
<circle cx="364.4" cy="574.8" r="9.049999999999999"/>
<circle cx="388.9" cy="575.3" r="9.049999999999999"/>
<circle cx="413.4" cy="572.8" r="9.049999999999999"/>
<circle cx="437.9" cy="575.3" r="9.049999999999999"/>
<circle cx="462.4" cy="577.3" r="9.049999999999999"/>
<circle cx="486.9" cy="579.8" r="9.049999999999999"/>
<circle cx="511.4" cy="582.0" r="9.049999999999999"/>
<circle cx="535.9" cy="579.9" r="9.049999999999999"/>
<circle cx="560.5" cy="583.7" r="9.049999999999999"/>
<circle cx="585.0" cy="582.9" r="9.049999999999999"/>
<circle cx="609.5" cy="585.6" r="9.049999999999999"/>
<circle cx="634.0" cy="585.9" r="9.049999999999999"/>
<circle cx="658.5" cy="587.2" r="9.049999999999999"/>
<circle cx="683.0" cy="590.5" r="9.049999999999999"/>
<circle cx="707.5" cy="587.3" r="9.049999999999999"/>
<circle cx="732.0" cy="585.3" r="9.049999999999999"/>
<circle cx="756.5" cy="589.3" r="9.049999999999999"/>
<circle cx="781.0" cy="586.6" r="9.049999999999999"/>
<circle cx="805.6" cy="587.8" r="9.049999999999999"/>
<circle cx="830.1" cy="588.6" r="9.049999999999999"/>
<circle cx="854.6" cy="587.6" r="9.049999999999999"/>
<circle cx="879.1" cy="586.8" r="9.049999999999999"/>
<circle cx="903.6" cy="584.3" r="9.049999999999999"/>
<circle cx="928.1" cy="587.8" r="9.049999999999999"/>
<circle cx="952.6" cy="591.0" r="9.049999999999999"/>
<circle cx="977.1" cy="591.0" r="9.049999999999999"/>
<circle cx="1001.6" cy="589.3" r="9.049999999999999"/>
<circle cx="1026.1" cy="591.5" r="9.049999999999999"/>
<circle cx="1050.7" cy="592.3" r="9.049999999999999"/>
<circle cx="1075.2" cy="592.3" r="9.049999999999999"/>
<circle cx="1099.7" cy="592.3" r="9.049999999999999"/>
<circle cx="1124.2" cy="592.3" r="9.049999999999999"/>
<circle cx="1148.7" cy="591.0" r="9.049999999999999"/>
<circle cx="1173.2" cy="592.3" r="9.049999999999999"/>
<circle cx="1197.7" cy="592.3" r="9.049999999999999"/>
<circle cx="1222.2" cy="592.3" r="9.049999999999999"/>
<circle cx="1246.7" cy="592.0" r="9.049999999999999"/>
<circle cx="1271.2" cy="592.0" r="9.049999999999999"/>
<circle cx="1295.8" cy="592.0" r="9.049999999999999"/>
<circle cx="1320.3" cy="592.0" r="9.049999999999999"/>
<circle cx="1344.8" cy="592.0" r="9.049999999999999"/>
</g>
<polyline clip-path="url(#pc)" points="192.8,591.3 217.3,590.2 241.8,584.8 266.3,580.3 290.8,567.6 315.4,551.8 339.9,529.0 364.4,509.4 388.9,491.2 413.4,477.9 437.9,466.2 462.4,457.5 486.9,451.8 511.4,445.4 535.9,438.0 560.5,433.5 585.0,428.5 609.5,424.0 634.0,416.0 658.5,407.3 683.0,401.0 707.5,389.3 732.0,380.1 756.5,372.3 781.0,365.2 805.6,354.8 830.1,350.9 854.6,344.4 879.1,337.9 903.6,335.5 928.1,332.7 952.6,330.2 977.1,327.8 1001.6,327.8 1026.1,326.9 1050.7,325.8 1075.2,325.2 1099.7,324.4 1124.2,323.9 1148.7,323.9 1173.2,323.7 1197.7,323.7 1222.2,323.4 1246.7,323.4 1271.2,323.8 1295.8,323.8 1320.3,323.6 1344.8,323.6 1369.3,323.0 1393.8,322.5 1418.3,321.2 1442.8,319.1" fill="none" stroke="#FF0000" stroke-width="8.6" stroke-linecap="round" stroke-linejoin="round"/>
<g fill="#FF0000" stroke="#EEECE1" stroke-width="2.7">
<circle cx="192.8" cy="591.3" r="10.35"/>
<circle cx="217.3" cy="590.2" r="10.35"/>
<circle cx="241.8" cy="584.8" r="10.35"/>
<circle cx="266.3" cy="580.3" r="10.35"/>
<circle cx="290.8" cy="567.6" r="10.35"/>
<circle cx="315.4" cy="551.8" r="10.35"/>
<circle cx="339.9" cy="529.0" r="10.35"/>
<circle cx="364.4" cy="509.4" r="10.35"/>
<circle cx="388.9" cy="491.2" r="10.35"/>
<circle cx="413.4" cy="477.9" r="10.35"/>
<circle cx="437.9" cy="466.2" r="10.35"/>
<circle cx="462.4" cy="457.5" r="10.35"/>
<circle cx="486.9" cy="451.8" r="10.35"/>
<circle cx="511.4" cy="445.4" r="10.35"/>
<circle cx="535.9" cy="438.0" r="10.35"/>
<circle cx="560.5" cy="433.5" r="10.35"/>
<circle cx="585.0" cy="428.5" r="10.35"/>
<circle cx="609.5" cy="424.0" r="10.35"/>
<circle cx="634.0" cy="416.0" r="10.35"/>
<circle cx="658.5" cy="407.3" r="10.35"/>
<circle cx="683.0" cy="401.0" r="10.35"/>
<circle cx="707.5" cy="389.3" r="10.35"/>
<circle cx="732.0" cy="380.1" r="10.35"/>
<circle cx="756.5" cy="372.3" r="10.35"/>
<circle cx="781.0" cy="365.2" r="10.35"/>
<circle cx="805.6" cy="354.8" r="10.35"/>
<circle cx="830.1" cy="350.9" r="10.35"/>
<circle cx="854.6" cy="344.4" r="10.35"/>
<circle cx="879.1" cy="337.9" r="10.35"/>
<circle cx="903.6" cy="335.5" r="10.35"/>
<circle cx="928.1" cy="332.7" r="10.35"/>
<circle cx="952.6" cy="330.2" r="10.35"/>
<circle cx="977.1" cy="327.8" r="10.35"/>
<circle cx="1001.6" cy="327.8" r="10.35"/>
<circle cx="1026.1" cy="326.9" r="10.35"/>
<circle cx="1050.7" cy="325.8" r="10.35"/>
<circle cx="1075.2" cy="325.2" r="10.35"/>
<circle cx="1099.7" cy="324.4" r="10.35"/>
<circle cx="1124.2" cy="323.9" r="10.35"/>
<circle cx="1148.7" cy="323.9" r="10.35"/>
<circle cx="1173.2" cy="323.7" r="10.35"/>
<circle cx="1197.7" cy="323.7" r="10.35"/>
<circle cx="1222.2" cy="323.4" r="10.35"/>
<circle cx="1246.7" cy="323.4" r="10.35"/>
<circle cx="1271.2" cy="323.8" r="10.35"/>
<circle cx="1295.8" cy="323.8" r="10.35"/>
<circle cx="1320.3" cy="323.6" r="10.35"/>
<circle cx="1344.8" cy="323.6" r="10.35"/>
<circle cx="1369.3" cy="323.0" r="10.35"/>
<circle cx="1393.8" cy="322.5" r="10.35"/>
<circle cx="1418.3" cy="321.2" r="10.35"/>
<circle cx="1442.8" cy="319.1" r="10.35"/>
</g>
<polyline clip-path="url(#pc)" points="192.8,592.0 217.3,592.0 241.8,592.0 266.3,591.5 290.8,586.0 315.4,574.8 339.9,562.3 364.4,536.0 388.9,512.8 413.4,487.4 437.9,470.0 462.4,450.0 486.9,433.0 511.4,417.3 535.9,403.2 560.5,390.5 585.0,378.1 609.5,367.7 634.0,354.0 658.5,337.8 683.0,323.3 707.5,307.6 732.0,294.0 756.5,281.2 781.0,269.2 805.6,264.4 830.1,261.9 854.6,260.3 879.1,256.4 903.6,250.0 928.1,244.9 952.6,240.8 977.1,238.3 1001.6,236.5 1026.1,235.2 1050.7,234.9 1075.2,234.4 1099.7,234.2 1124.2,234.2 1148.7,234.2 1173.2,234.2 1197.7,234.2 1222.2,234.2 1246.7,234.2 1271.2,233.7 1295.8,233.6 1320.3,233.5 1344.8,233.4 1369.3,233.1 1393.8,233.1 1418.3,233.1 1442.8,231.8 1467.3,230.1" fill="none" stroke="#0070C0" stroke-width="8.8" stroke-linecap="round" stroke-linejoin="round"/>
<polyline clip-path="url(#pc)" points="192.8,591.5 217.3,591.5 241.8,590.3 266.3,587.5 290.8,583.5 315.4,569.8 339.9,549.9 364.4,532.0 388.9,515.6 413.4,492.4 437.9,474.7 462.4,458.4 486.9,443.0 511.4,427.2 535.9,418.5 560.5,404.8 585.0,397.3 609.5,388.3 634.0,381.0 658.5,366.4 683.0,358.4 707.5,348.4 732.0,339.0 756.5,333.0 781.0,329.8 805.6,324.8 830.1,321.1 854.6,317.3 879.1,314.8 903.6,309.9 928.1,305.6 952.6,302.1 977.1,298.9 1001.6,296.6 1026.1,294.1 1050.7,293.1 1075.2,291.1 1099.7,290.5 1124.2,289.9 1148.7,289.5 1173.2,288.3 1197.7,288.1 1222.2,287.6 1246.7,286.1 1271.2,286.2 1295.8,284.1 1320.3,280.7 1344.8,276.9 1369.3,273.5 1393.8,273.5" fill="none" stroke="#92D050" stroke-width="7.6" stroke-linecap="round" stroke-linejoin="round"/>
<polyline clip-path="url(#pc)" points="192.8,582.3 217.3,571.8 241.8,562.3 266.3,551.1 290.8,536.9 315.4,515.3 339.9,494.5 364.4,472.0 388.9,454.5 413.4,432.6 437.9,412.3 462.4,396.3 486.9,376.7 511.4,357.1 535.9,340.2 560.5,320.9 585.0,310.0 609.5,300.0 634.0,298.0 658.5,283.6 683.0,267.7 707.5,255.0 732.0,244.0 756.5,239.1 781.0,237.1 805.6,232.8 830.1,230.5 854.6,228.7 879.1,228.7 903.6,228.0 928.1,227.5 952.6,227.5 977.1,227.5 1001.6,227.3 1026.1,227.0 1050.7,227.0 1075.2,227.0 1099.7,227.0 1124.2,227.0 1148.7,227.0 1173.2,227.0 1197.7,227.0 1222.2,227.0 1246.7,226.9 1271.2,226.6 1295.8,226.3 1320.3,225.8 1344.8,225.3 1369.3,223.5 1393.8,223.2 1418.3,222.7 1442.8,222.7" fill="none" stroke="#FFC000" stroke-width="7.4" stroke-linecap="round" stroke-linejoin="round"/>
<polyline clip-path="url(#pc)" points="192.8,590.0 217.3,585.3 241.8,582.5 266.3,580.6 290.8,578.0 315.4,577.8 339.9,577.4 364.4,570.0 388.9,561.1 413.4,552.3 437.9,541.1 462.4,522.4 486.9,509.9 511.4,501.1 535.9,493.3 560.5,488.5 585.0,485.0 609.5,479.4 634.0,475.0 658.5,468.7 683.0,467.0 707.5,462.0 732.0,460.0 756.5,457.5 781.0,456.2 805.6,456.2 830.1,454.2 854.6,454.8 879.1,454.1 903.6,453.6 928.1,453.6 952.6,453.1 977.1,452.1 1001.6,450.6 1026.1,449.1 1050.7,448.6 1075.2,447.6 1099.7,447.3 1124.2,447.3 1148.7,447.3 1173.2,446.8 1197.7,445.6 1222.2,444.6 1246.7,442.9 1271.2,441.2 1295.8,441.2 1320.3,438.7 1344.8,438.7 1369.3,436.2 1393.8,431.2 1418.3,423.0 1442.8,417.5" fill="none" stroke="#002060" stroke-width="7.4" stroke-linecap="round" stroke-linejoin="round"/>
<polyline clip-path="url(#pc)" points="192.8,591.4 217.3,591.4 241.8,591.3 266.3,591.2 290.8,590.5 315.4,589.7 339.9,589.0 364.4,588.6 388.9,588.4 413.4,588.2 437.9,588.0 462.4,587.8 486.9,587.6 511.4,587.4 535.9,587.2 560.5,587.1 585.0,587.0 609.5,586.9 634.0,586.6 658.5,580.8 683.0,576.4 707.5,572.3 732.0,565.6 756.5,560.3 781.0,551.1 805.6,547.4 830.1,542.9 854.6,539.6 879.1,535.0 903.6,531.1 928.1,526.9 952.6,525.6 977.1,525.6 1001.6,523.6 1026.1,521.9 1050.7,518.6 1075.2,516.1 1099.7,512.4 1124.2,508.2 1148.7,503.7 1173.2,500.5 1197.7,494.1 1222.2,489.7 1246.7,486.9 1271.2,481.1 1295.8,476.9 1320.3,469.4 1344.8,463.2 1369.3,457.4 1393.8,450.4 1418.3,441.9 1442.8,434.2" fill="none" stroke="#F79646" stroke-width="6.9" stroke-linecap="round" stroke-linejoin="round"/>
<polyline clip-path="url(#pc)" points="192.8,584.8 217.3,575.2 241.8,567.3 266.3,561.1 290.8,548.6 315.4,535.5 339.9,513.0 364.4,491.5 388.9,468.4 413.4,449.3 437.9,428.7 462.4,413.0 486.9,398.6 511.4,389.8 535.9,376.1 560.5,364.9 585.0,357.4 609.5,347.4 634.0,338.6 658.5,329.3 683.0,321.7 707.5,314.9 732.0,305.8 756.5,298.7 781.0,294.1 805.6,290.7 830.1,284.8 854.6,283.4 879.1,281.6 903.6,278.7 928.1,278.5 952.6,277.8 977.1,276.2 1001.6,273.5 1026.1,272.7 1050.7,271.1 1075.2,269.8 1099.7,267.3 1124.2,266.1 1148.7,264.1 1173.2,264.4 1197.7,263.7 1222.2,263.6 1246.7,262.9 1271.2,262.3 1295.8,261.8 1320.3,261.4 1344.8,261.0 1369.3,260.5 1393.8,260.3 1418.3,260.3 1442.8,260.3" fill="none" stroke="#4BACC6" stroke-width="7.7" stroke-linecap="round" stroke-linejoin="round"/></g>
<path d="M79.1,652.0 h60" stroke="#637B31" stroke-width="7.8" stroke-linecap="round" fill="none"/>
<circle cx="109.1" cy="652.0" r="8.9" fill="url(#gg)" stroke="#EEECE1" stroke-width="2.7"/>
<path d="M298.2,652.0 h60" stroke="#FF0000" stroke-width="9.2" stroke-linecap="round" fill="none"/>
<circle cx="328.2" cy="652.0" r="9.549999999999999" fill="#FF0000" stroke="#EEECE1" stroke-width="2.7"/>
<path d="M517.3,652.0 h60" stroke="#0070C0" stroke-width="9.6" stroke-linecap="round" fill="none"/>
<path d="M736.4,652.0 h60" stroke="#92D050" stroke-width="7.8" stroke-linecap="round" fill="none"/>
<path d="M79.1,689.3 h60" stroke="#FFC000" stroke-width="7.6" stroke-linecap="round" fill="none"/>
<path d="M298.2,689.3 h60" stroke="#002060" stroke-width="7.6" stroke-linecap="round" fill="none"/>
<path d="M517.3,689.3 h60" stroke="#F79646" stroke-width="7.5" stroke-linecap="round" fill="none"/>
<path d="M736.4,689.3 h60" stroke="#4BACC6" stroke-width="7.6" stroke-linecap="round" fill="none"/>
</svg>
<div class="t title"><span class="l j">JCI</span>：<span class="l d">2019-2025</span>年美豆对华周度检验累计总量</div>
<div class="t unit">单位：吨</div>
<div class="t src">数据来源：<span class="l">USDA</span>、<span class="l">JCI</span>大数据中心</div>
<div class="t ax" style="top:157.8px">35,000,000</div>
<div class="t ax" style="top:217.8px">30,000,000</div>
<div class="t ax" style="top:277.9px">25,000,000</div>
<div class="t ax" style="top:337.8px">20,000,000</div>
<div class="t ax" style="top:397.2px">15,000,000</div>
<div class="t ax" style="top:456.9px">10,000,000</div>
<div class="t ax" style="top:516.8px">5,000,000</div>
<div class="t ax" style="top:576.9px">0</div>
<div class="t lg" style="left:149.0px;top:635.7px">2024/25</div>
<div class="t lg" style="left:368.1px;top:635.7px">2023/24</div>
<div class="t lg" style="left:587.2px;top:635.7px">2022/23</div>
<div class="t lg" style="left:806.3px;top:635.7px">2021/22</div>
<div class="t lg" style="left:149.0px;top:673.5px">2020/21</div>
<div class="t lg" style="left:368.1px;top:673.5px">2019/20</div>
<div class="t lg" style="left:587.2px;top:673.5px">2018/19</div>
<div class="t lg" style="left:806.3px;top:673.5px">2017/18</div>
</body>
</html>
